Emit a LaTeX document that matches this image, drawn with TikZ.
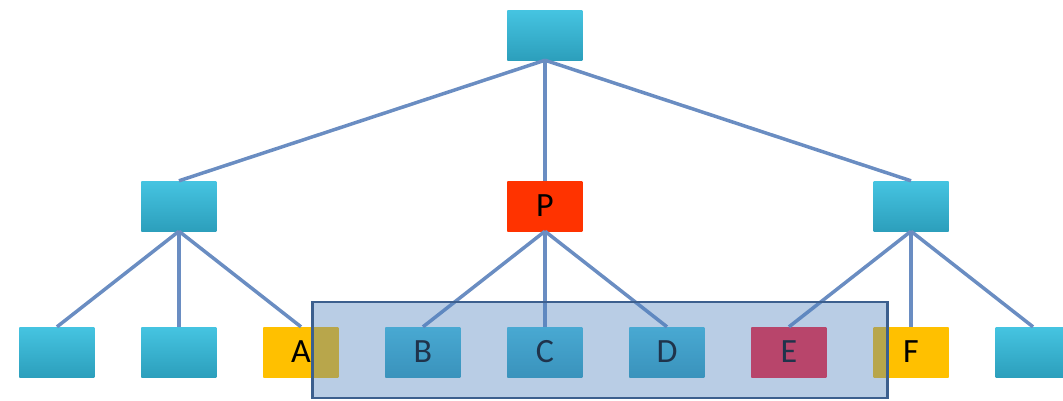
\documentclass[tikz,border=0pt]{standalone}
\usepackage{fontspec}
\setmainfont{Carlito}
\usepackage{tikz}
\usetikzlibrary{calc}
\usepackage{tikz-qtree}
\definecolor{edgeblue}{HTML}{6A8DC2}
\definecolor{framblue}{HTML}{3C5F8E}
\definecolor{winblue}{HTML}{4F81BD}
\definecolor{cyantop}{HTML}{45C4E1}
\definecolor{cyanbot}{HTML}{2C9FBC}
\definecolor{pred}{HTML}{FF3300}
\definecolor{gold}{HTML}{FFC000}
\definecolor{rose}{HTML}{FF1E35}
\tikzset{
  box/.style={rectangle,minimum width=75pt,minimum height=50pt,inner sep=0pt,
    top color=cyantop,bottom color=cyanbot,
    font=\fontsize{34}{38}\selectfont},
  redbox/.style={box,top color=pred,bottom color=pred},
  goldbox/.style={box,top color=gold,bottom color=gold},
  rosebox/.style={box,top color=rose,bottom color=rose},
}
\begin{document}
\begin{tikzpicture}[x=1pt,y=1pt,sibling distance=47pt,
   level 1/.style={level distance=171pt},
   level 2/.style={level distance=146pt},
   every tree node/.style={box},
   edge from parent/.style={draw,edgeblue,line width=3.5pt},
   edge from parent path={(\tikzparentnode.south) -- (\tikzchildnode.north)}]
\Tree [.\node (root) {};
    [.\node (left) {};
      \node (l1) {};
      \node (l2) {};
      \node[goldbox] (a) {A};
    ]
    [.\node[redbox] (p) {P};
      \node (b) {B};
      \node (c) {C};
      \node (d) {D};
    ]
    [.\node (right) {};
      \node[rosebox] (e) {E};
      \node[goldbox] (f) {F};
      \node (r3) {};
    ]
    ]
% window over the leaves
\draw[framblue,line width=2.5pt,fill=winblue,fill opacity=0.4]
  ($(a.north east)+(-26,25)$) rectangle ($(f.south west)+(14,-21)$);
\pgfresetboundingbox
\useasboundingbox ($(l1.center|-root.center)+(-57,35)$) rectangle ($(l1.center|-root.center)+(1006,-365)$);
\end{tikzpicture}
\end{document}
